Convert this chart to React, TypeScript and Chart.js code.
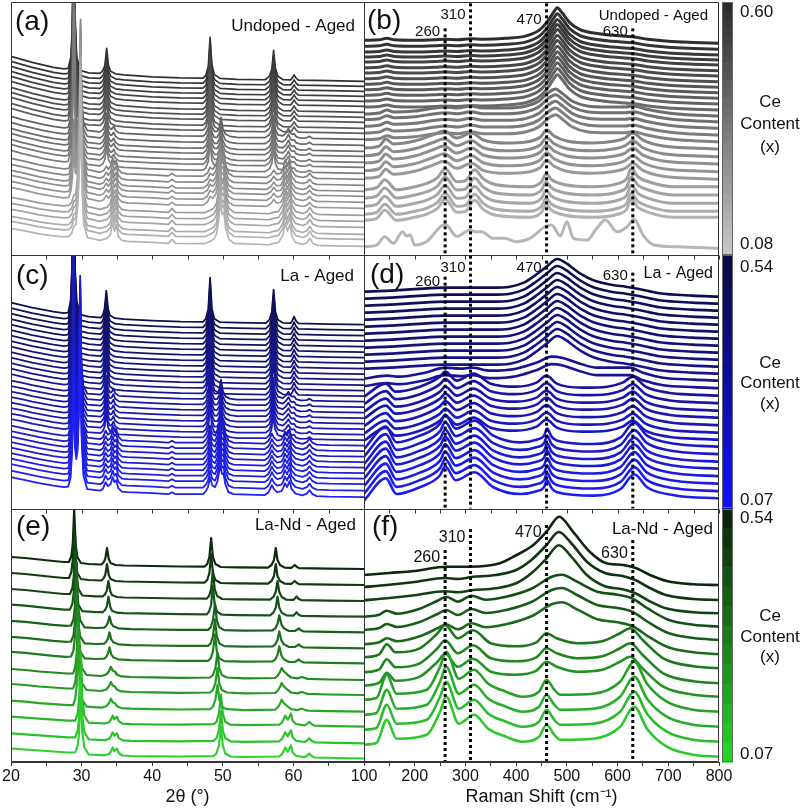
import React, { useEffect, useRef } from 'react';
import { Chart, registerables } from 'chart.js';

Chart.register(...registerables);

type Pt = [number, number];

const FONT = '"Liberation Sans", Arial, Helvetica, sans-serif';
const ROW_H = 760 / 3;

// ---------------- axes / labels ----------------
const xrdTicks = [20, 25, 30, 35, 40, 45, 50, 55, 60, 65, 70];
const xrdLabels = [20, 30, 40, 50, 60];
const ramanTicks = [100, 150, 200, 250, 300, 350, 400, 450, 500, 550, 600, 650, 700, 750, 800];
const ramanLabels = [100, 200, 300, 400, 500, 600, 700, 800];

const ramanLines = [260, 310, 460, 630];
const ramanLineLabels = ['260', '310', '470', '630'];
const ramanLineTopsB = [227, 252, 252, 227];
const ramanLineTopsD = [232, 253, 248, 236];
const ramanLineTopsF = [212, 233, 237, 222];

const ceHigh = ['0.60', '0.54', '0.54'];
const ceLow = ['0.08', '0.07', '0.07'];
const panelTags = ['(a)', '(b)', '(c)', '(d)', '(e)', '(f)'];
const sampleNames = ['Undoped - Aged', 'La - Aged', 'La-Nd - Aged'];

// ---------------- (a) XRD undoped ----------------
const aCubic: Pt[] = [[20,25],[21.5,22],[23,19],[24.5,16.5],[26,14],[27.5,12.5],
  [28.1,13],[28.5,25],[28.7,60],[28.9,175],[29.1,60],[29.3,25],[29.8,11],
  [31,8.5],[32.6,8],[33.0,10.5],[33.3,16],[33.55,33],[33.8,16],[34.1,10],[34.8,7.5],
  [36,6.5],[40,4.5],[44,3.5],[47.2,3.2],[47.6,6],[47.95,15],[48.2,44],[48.45,17],[48.8,7],[49.6,3],
  [52,2],[56,1.6],[56.6,5],[56.95,12],[57.2,31],[57.45,13],[57.8,5],[58.5,1.8],
  [59.6,1.5],[59.85,3.5],[60.1,6.5],[60.35,3.5],[60.7,1.3],[65,0.8],[70,0]];
const aMixed: Pt[] = [[20,23],[21.5,20],[23,17.5],[24.5,15],[26,13],[27.5,11.5],
  [28.1,12],[28.5,22],[28.7,55],[28.9,160],[29.1,55],[29.3,30],[29.5,28],[29.7,38],[29.9,70],[30.1,32],[30.3,16],[30.8,9],
  [32.6,7.5],[33.0,9.5],[33.3,14],[33.55,26],[33.8,14],[34.1,10],[34.3,10.5],[34.55,13],[34.8,9],[35.3,6.5],
  [36,6],[40,4.5],[44,3.5],[47.2,3.2],[47.6,5.5],[47.95,12],[48.2,33],[48.45,13],[48.8,8],[49.2,8],[49.5,12],[49.75,22],[50.0,11],[50.4,5],[51,3],[52,2],
  [56,1.7],[56.6,4.5],[56.95,10],[57.2,24],[57.45,10],[57.8,4.5],[58.5,3.5],[58.9,6],[59.3,11],[59.6,6],[59.85,5],[60.1,5.5],[60.4,2.5],[61,1.3],[61.9,1.5],[62.3,3],[62.7,1],[66,0.5],[70,0]];
const aTetra1: Pt[] = [[20,21],[22,18],[24,14.5],[26,12],[27.5,10.5],
  [28.2,11],[28.5,18],[28.7,32],[28.9,60],[29.1,36],[29.3,34],[29.5,50],[29.7,80],[29.85,160],[30.05,60],[30.3,24],[30.8,10],
  [32.6,7],[33.1,8.5],[33.5,13],[33.8,10],[34.1,13],[34.4,22],[34.65,15],[34.9,19],[35.2,10],[35.7,6.5],
  [36.5,5.5],[40,4.5],[42.3,3.5],[42.8,6],[43.3,3.5],[47.2,3.2],[47.8,6],[48.2,12],[48.6,10],[49.0,14],[49.3,22],[49.6,38],[49.85,28],[50.1,30],[50.35,16],[50.8,6],[51.5,3],
  [56.2,2],[56.8,4.5],[57.2,9],[57.6,5.5],[58.2,6],[58.5,10],[58.85,20],[59.15,13],[59.45,20],[59.75,9],[60.3,3.5],[61.3,1.8],[61.9,3],[62.3,6],[62.7,2.5],[63.3,1],[66,0.6],[70,0]];
const aTetra2: Pt[] = [[20,18],[22,15.5],[24,12.5],[26,10.5],[27.5,9.5],
  [28.2,10],[28.6,13],[28.9,20],[29.2,22],[29.5,45],[29.7,85],[29.85,165],[30.05,60],[30.3,22],[30.8,9],
  [32.6,6],[33.3,7.5],[33.6,8],[34.1,12],[34.4,25],[34.65,15],[34.9,22],[35.2,10],[35.7,6],
  [36.5,5],[40,4],[42.3,3],[42.8,7],[43.3,3],[47.5,2.8],[48.2,5],[48.7,7],[49.1,12],[49.4,25],[49.65,45],[49.9,32],[50.15,34],[50.4,18],[50.85,7],[51.6,3],
  [56.5,1.6],[57.2,3],[57.9,4],[58.5,11],[58.85,24],[59.15,15],[59.5,22],[59.8,10],[60.3,4],[61.3,1.8],[61.9,3.5],[62.35,8],[62.75,3],[63.4,1],[66,0.5],[70,0]];
const aOffsets = [174, 169, 164, 159, 154, 149, 143, 138, 133, 127, 122, 116, 110, 104, 99, 93, 88, 82, 76, 70, 64, 59, 53, 47, 40, 34, 28, 21, 16, 9];
const aTplIdx = [0,0,0,0,0,0,0,0,0,0,0,1,1,1,1,1,1,1,2,2,2,2,2,2,3,3,3,3,3,3];

// ---------------- (b) Raman undoped ----------------
const bCubic: Pt[] = [[100,3],[130,3.5],[145,5],[160,3.5],[200,3],[240,3.5],[260,4],[285,3.5],[310,4.5],[335,4],[380,5],[420,7.5],[445,13],[462,22],[475,32],[481,35.5],[490,31],[505,21],[525,14],[550,10.5],[590,8],[630,6.5],[660,4],[700,2],[750,0.8],[800,0]];
const bMixed: Pt[] = [[100,2],[130,3],[145,6],[160,4],[200,5],[240,8],[260,9],[285,8],[310,10],[335,8],[380,8],[420,10],[445,15],[465,24],[478,27],[490,23],[510,15],[540,10],[580,9],[615,9],[632,10],[655,7],[700,3],[750,1],[800,0]];
const bTetra1: Pt[] = [[100,1],[130,3],[143,10],[158,5],[200,8],[235,14],[258,18],[283,11],[312,16],[335,9],[380,6],[420,7],[448,12],[460,19],[475,13],[500,8],[550,6],[595,8],[615,11],[630,16],[650,9],[690,3],[750,1],[800,0]];
const bTetra2: Pt[] = [[100,-3],[125,-1],[141,7],[164,-3],[200,0],[224,3.3],[245,9],[260,18],[283,5],[300,6],[318,17],[335,8],[360,2],[426,0],[450,5],[459,13],[470,7],[497,2],[550,0],[602,3.3],[618,8],[627,18],[640,10],[661,5],[711,0],[800,0]];
const bMono: Pt[] = [[100,1.6],[125,3.3],[141,11.6],[158,5],[176,16.6],[184,12.3],[191,13.3],[200,3.3],[223,6.6],[260,24],[283,12],[309,18.3],[319,16.6],[332,16.6],[355,10],[378,10],[401,6.6],[427,10],[457,21.6],[470,23.3],[487,12.3],[500,26.6],[513,10],[540,8.3],[559,20],[576,28.3],[599,16.6],[619,21.6],[632,29],[652,12],[672,3.3],[718,1.6],[800,0]];
const bOffsets = [212, 206, 200.3, 195.3, 190.3, 184.6, 179.3, 173.6, 168, 162.6, 157, 151.3, 145.3, 139.3, 133.6, 127, 120.3, 113.6, 106.3, 98.6, 91.3, 83.6, 76, 68.6, 60.3, 52, 44, 38, 7];
const bTplIdx = [0,0,0,0,0,0,0,0,0,0,0,0,0,1,1,1,1,1,2,2,2,2,2,3,3,3,3,3,4];

// ---------------- (c) XRD La ----------------
const cCubic: Pt[] = [[20,22],[21.5,19.5],[23,17],[24.5,15],[26,13],[27.5,11.5],
  [28.1,12],[28.45,24],[28.65,60],[28.85,200],[29.05,60],[29.3,24],[29.8,10],
  [31,8],[32.7,7],[33.0,9.5],[33.25,16],[33.5,34],[33.75,16],[34.0,9.5],[34.7,6.5],
  [36,5.5],[40,4],[44,3],[47.2,2.8],[47.6,6],[47.95,16],[48.2,47],[48.45,16],[48.8,6],[49.6,2.5],
  [52,2],[56.1,1.6],[56.6,5],[56.95,13],[57.2,35],[57.45,13],[57.8,5],[58.5,1.8],
  [59.6,1.5],[59.85,4],[60.1,8],[60.35,4],[60.7,1.3],[65,0.5],[70,0]];
const cMixed: Pt[] = [[20,21],[21.5,19],[23,16.5],[24.5,14.5],[26,12.5],[27.5,11],
  [28.1,11.5],[28.45,22],[28.65,55],[28.85,170],[29.05,55],[29.25,30],[29.45,28],[29.6,40],[29.8,80],[30.0,35],[30.25,16],[30.8,8],
  [32.7,7],[33.0,9],[33.25,13],[33.5,26],[33.75,13],[34.0,9],[34.25,9.5],[34.5,13],[34.75,8.5],[35.3,5.8],
  [36,5.5],[40,4],[44,3],[47.2,2.8],[47.6,5.5],[47.95,13],[48.2,35],[48.45,14],[48.8,8],[49.2,8],[49.5,12],[49.75,22],[50.0,11],[50.4,5],[51,3],[52,2],
  [56.1,2],[56.6,5],[56.9,11],[57.15,24],[57.4,11],[57.8,5],[58.5,3.5],[58.9,6],[59.3,10],[59.6,6],[59.85,5],[60.1,5.5],[60.4,2.5],[61,1.3],[61.9,1.5],[62.3,3],[62.7,1],[65,0.5],[70,0]];
const cTetra: Pt[] = [[20,20],[22,17],[24,14],[26,11.5],[27.5,10],
  [28.1,10.5],[28.45,20],[28.65,45],[28.85,110],[29.05,50],[29.25,38],[29.45,48],[29.6,80],[29.8,170],[30.0,60],[30.25,22],[30.8,8],
  [32.6,6.5],[33.0,8],[33.4,15],[33.7,11],[34.1,13],[34.4,20],[34.65,15],[34.9,17],[35.2,9],[35.7,5.5],
  [36.5,5],[40,4],[42.3,3],[42.8,5],[43.3,3],[47.2,3],[47.6,6],[47.9,10],[48.2,20],[48.5,12],[48.9,10],[49.25,16],[49.65,32],[49.9,23],[50.1,24],[50.35,13],[50.8,5],[51.5,3],
  [55.9,2],[56.4,4.5],[56.7,8],[56.95,12],[57.25,8],[57.7,5],[58.3,6],[58.55,9],[58.8,14],[59.1,10],[59.45,16],[59.75,8],[60.3,3.5],[61.3,1.8],[61.9,3.5],[62.3,7],[62.7,3],[63.3,1],[65,0.5],[70,0]];
const cOffsets = [184, 178.5, 173, 167.5, 162, 156.5, 151, 145.5, 140, 134.5, 129, 123.5, 118, 112.5, 107, 101.5, 96, 90.5, 85, 79.5, 74, 68.5, 63, 57.5, 52, 46.5, 41, 35.5, 30, 24.5, 18, 11.5];
const cTplIdx = [0,0,0,0,0,0,0,0,0,0,0,0,0,0,1,1,1,1,1,1,1,1,2,2,2,2,2,2,2,2,2,2];

// ---------------- (d) Raman La ----------------
const dCubic: Pt[] = [[100,5],[150,6],[200,7.5],[260,9],[310,9],[350,9],[388,10],[415,14],[434,20],[460,30],[481,37.7],[500,33],[512,28.4],[530,22],[551,16.7],[590,11.7],[616,10],[642,7.7],[682,3.4],[747,1],[800,0]];
const dMixed: Pt[] = [[100,2],[145,5],[170,4],[220,8],[260,13],[290,12],[312,13],[350,10],[400,12],[440,18],[470,24],[490,23],[520,18],[560,13],[600,13],[625,13],[650,8],[690,3],[750,1],[800,0]];
const dTetra1: Pt[] = [[100,-1],[143,12],[162,4],[210,9],[250,19],[260,24],[283,15],[316,22],[350,12],[400,9],[440,13],[460,20],[480,12],[530,8],[580,9],[610,13],[630,19],[655,9],[700,3],[750,1],[800,0]];
const dTetra2: Pt[] = [[100,-2.4],[143,20],[164,4.3],[210,11],[250,23],[260,32],[281,18],[318,26],[355,11],[408,4.3],[440,7],[455,11],[461,18],[470,10],[481,6],[553,2.6],[606,9.3],[633,24],[658,11],[717,2.6],[800,0]];
const dOffsets = [212, 205, 198, 191, 184, 177, 170, 163, 156, 149, 142, 135, 128, 120.5, 113, 105.5, 98, 91, 83.5, 76, 69, 62, 54.5, 47, 40, 32.5, 25, 17.5, 10.4];
const dTplIdx = [0,0,0,0,0,0,0,0,0,0,0,0,1,1,2,2,2,2,2,2,2,3,3,3,3,3,3,3,3];

// ---------------- (e) XRD La-Nd ----------------
const eStep1: Pt[] = [[20,12],[22,11],[24,9.5],[26,8],[27.5,7],
  [28.2,7],[28.55,13],[28.75,25],[28.95,60],[29.15,25],[29.4,12],[29.9,6],
  [31,5],[32.8,4.5],[33.1,6.5],[33.35,10],[33.6,21],[33.85,10],[34.1,6],[34.8,4],
  [36,3.5],[40,3],[44,2.5],[47.4,2.3],[47.8,5],[48.1,12],[48.35,31],[48.6,12],[48.95,5],[49.7,2],
  [52,1.6],[56.4,1.4],[56.9,4],[57.25,9],[57.5,21],[57.75,9],[58.1,4],[58.8,1.3],
  [59.7,1.1],[59.95,2.5],[60.2,4],[60.45,2.3],[60.8,0.9],[65,0.4],[70,0]];
const eStep2: Pt[] = [[20,12],[22,11],[24,9.5],[26,8],[27.5,7],
  [28.35,7],[28.7,13],[28.9,25],[29.1,65],[29.3,25],[29.55,12],[30.1,5.5],
  [32,4.6],[33,4.6],[33.3,6.5],[33.55,10],[33.8,20],[34.05,10],[34.3,6],[35,4],
  [36,3.5],[40,3],[44,2.5],[47.7,2.3],[48.05,5],[48.35,12],[48.6,31],[48.85,12],[49.2,5],[49.9,2],
  [52,1.6],[56.7,1.4],[57.15,4],[57.5,9],[57.75,20],[58.0,9],[58.35,4],[59,1.3],
  [60,1.1],[60.2,2.5],[60.45,4.5],[60.7,2.3],[61.1,0.9],[65,0.4],[70,0]];
const eStep3: Pt[] = [[20,11.5],[22,10.5],[24,9],[26,7.5],[27.8,6.5],
  [28.5,6.8],[28.85,13],[29.05,26],[29.3,70],[29.5,26],[29.8,12],[30.4,5],
  [32,4.3],[33.2,4.6],[33.5,6.5],[33.75,10],[33.95,16],[34.2,9],[34.5,6],[35.2,4],
  [37,3.2],[40,2.8],[44,2.4],[47.9,2.4],[48.3,5],[48.6,12],[48.9,29],[49.15,12],[49.5,5],[50.2,2.2],
  [53,1.6],[57,1.8],[57.45,4],[57.75,8.5],[58.0,17],[58.3,8],[58.65,4],[59.3,1.5],
  [60.2,1.3],[60.5,2.5],[60.75,4],[61.0,2.2],[61.4,1],[65,0.5],[70,0]];
const eStep4: Pt[] = [[20,11],[22,10],[24,8.5],[26,7.5],[28,6.5],
  [28.8,6.5],[29.1,13],[29.3,26],[29.55,72],[29.75,26],[30.05,12],[30.7,5],
  [32.8,4],[33.5,5.5],[33.85,8.5],[34.15,13],[34.4,9.5],[34.7,8.5],[35.0,5.5],[35.6,3.6],
  [37,3],[40,2.6],[44,2.2],[48.2,2.5],[48.6,5],[48.95,12],[49.25,27],[49.5,12],[49.85,5],[50.6,2.5],
  [53,1.6],[57.4,2],[57.8,4.5],[58.1,8],[58.35,12],[58.6,9],[58.9,7],[59.2,5],[59.7,2.5],
  [60.6,1.6],[60.9,2.4],[61.2,3],[61.5,2.2],[62,1.1],[65,0.5],[70,0]];
const eStep5: Pt[] = [[20,10],[22,9],[24,8],[26,7],[28,6],
  [29.1,6],[29.45,13],[29.65,26],[29.9,75],[30.1,26],[30.4,11],[31,4],
  [33.3,3.2],[33.9,4.5],[34.15,7],[34.4,11],[34.65,7.5],[35.0,10],[35.25,5.5],[35.8,3],
  [37,2.5],[40,2.2],[44,2],[48.7,2.5],[49.1,5],[49.45,13],[49.75,32],[50.0,13],[50.35,5],[51.1,2],
  [53,1.5],[58.0,2],[58.4,4.5],[58.85,11],[59.2,7],[59.65,13],[59.9,6],[60.4,2.5],
  [61.6,1.3],[61.95,3],[62.25,5],[62.55,2.6],[63,1],[66,0.5],[70,0]];
const eOffsets = [193, 177, 161, 145.3, 129.7, 113.7, 98.7, 82, 67, 50.3, 35.3, 18.7, 3.5];
const eTplIdx = [0,0,1,1,2,2,2,3,3,3,4,4,4];

// ---------------- (f) Raman La-Nd ----------------
const fStep1: Pt[] = [[100,10],[150,12],[200,14],[263,18.3],[309,18.3],[368,21.7],[401,30],[434,40],[460,53.3],[485,68.3],[512,53.3],[545,33.3],[578,21.7],[611,20],[637,16.7],[664,10],[697,4],[749,0.7],[800,0]];
const fStep2: Pt[] = [[100,13],[145,15],[200,18],[260,22],[285,21],[312,23],[360,25],[400,30],[430,40],[460,55],[484,68],[510,56],[540,38],[575,27],[610,24],[635,20],[660,13],[695,5],[750,1],[800,0]];
const fStep3: Pt[] = [[100,10],[130,12],[145,16],[165,13],[210,18],[245,26],[262,30],[285,25],[312,31],[340,27],[380,30],[430,38],[470,50],[490,52],[520,45],[560,35],[600,32],[630,28],[660,18],[700,7],[750,2],[800,0]];
const fStep4: Pt[] = [[100,11],[130,14],[145,24],[162,16],[210,20],[245,35],[260,43],[285,30],[315,38],[350,25],[400,22],[440,26],[460,35],[480,30],[520,25],[570,27],[605,35],[625,40],[650,28],[690,10],[750,2],[800,0]];
const fStep5: Pt[] = [[100,12],[125,14],[145,37],[164,18],[224,22],[250,45],[262,60],[287,33],[317,42],[345,28],[380,20],[412,15],[445,20],[460,32],[475,22],[487,17],[552,18],[605,30],[633,50],[658,28],[697,10],[749,2],[800,0]];
const fOffsets = [177, 162, 148.7, 135.3, 122, 107.7, 93.7, 78.7, 65.3, 50.3, 35.3, 20.3, 5.3];
const fTplIdx = [0,1,1,2,2,2,3,3,3,4,4,4,4];

// ---------------- styling ----------------
interface PanelSpec {
  xId: string; yId: string; templates: Pt[][]; tplIdx: number[]; offsets: number[];
  c0: string; c1: string; width: number; smooth: boolean;
}
const PANELS: PanelSpec[] = [
  { xId: 'xL', yId: 'yA', templates: [aCubic, aMixed, aTetra1, aTetra2], tplIdx: aTplIdx, offsets: aOffsets, c0: '#303030', c1: '#b4b4b4', width: 1.7, smooth: false },
  { xId: 'xR', yId: 'yA', templates: [bCubic, bMixed, bTetra1, bTetra2, bMono], tplIdx: bTplIdx, offsets: bOffsets, c0: '#2e2e2e', c1: '#b6b6b6', width: 3, smooth: true },
  { xId: 'xL', yId: 'yC', templates: [cCubic, cMixed, cTetra], tplIdx: cTplIdx, offsets: cOffsets, c0: '#10104e', c1: '#2020f4', width: 1.8, smooth: false },
  { xId: 'xR', yId: 'yC', templates: [dCubic, dMixed, dTetra1, dTetra2], tplIdx: dTplIdx, offsets: dOffsets, c0: '#0e0e4e', c1: '#1c1cf0', width: 2.6, smooth: true },
  { xId: 'xL', yId: 'yE', templates: [eStep1, eStep2, eStep3, eStep4, eStep5], tplIdx: eTplIdx, offsets: eOffsets, c0: '#0f2a0f', c1: '#2ed02e', width: 2.2, smooth: false },
  { xId: 'xR', yId: 'yE', templates: [fStep1, fStep2, fStep3, fStep4, fStep5], tplIdx: fTplIdx, offsets: fOffsets, c0: '#0e260e', c1: '#2cc82c', width: 2.6, smooth: true },
];

const COLORBARS = [
  { top: '#2b2b2b', bottom: '#c6c6c6', steps: 29 },
  { top: '#0a0a46', bottom: '#0f0fff', steps: 29 },
  { top: '#0b250b', bottom: '#24d424', steps: 13 },
];

function hexRgb(h: string): number[] {
  const n = parseInt(h.slice(1), 16);
  return [(n >> 16) & 255, (n >> 8) & 255, n & 255];
}
function mix(a: string, b: string, t: number): string {
  const A = hexRgb(a), B = hexRgb(b);
  return `rgb(${A.map((v, i) => Math.round(v + (B[i] - v) * t)).join(',')})`;
}

function buildDatasets(): any[] {
  const ds: any[] = [];
  PANELS.forEach((p) => {
    const n = p.offsets.length;
    p.offsets.forEach((off, i) => {
      const tpl = p.templates[p.tplIdx[i]];
      ds.push({
        type: 'line',
        data: tpl.map(([x, y]) => ({ x, y: y + off })),
        xAxisID: p.xId,
        yAxisID: p.yId,
        borderColor: mix(p.c0, p.c1, n > 1 ? i / (n - 1) : 0),
        borderWidth: p.width,
        pointRadius: 0,
        fill: false,
        tension: 0,
        cubicInterpolationMode: p.smooth ? 'monotone' : 'default',
        borderJoinStyle: 'round',
        borderCapStyle: 'round',
        order: 10 + (n - 1 - i),
      });
    });
  });
  const tops: [string, number[]][] = [['yA', ramanLineTopsB], ['yC', ramanLineTopsD], ['yE', ramanLineTopsF]];
  tops.forEach(([yId, arr]) => {
    ramanLines.forEach((v, k) => {
      ds.push({
        type: 'line',
        data: [{ x: v, y: arr[k] }, { x: v, y: 0 }],
        xAxisID: 'xR',
        yAxisID: yId,
        borderColor: '#000',
        borderWidth: 3,
        borderDash: [3, 3],
        borderCapStyle: 'butt',
        pointRadius: 0,
        fill: false,
        order: 0,
      });
    });
  });
  return ds;
}

function xAxis(min: number, max: number, ticks: number[], labels: number[], title: string, weight: number, stackWeight: number) {
  return {
    type: 'linear', axis: 'x', position: 'bottom', stack: 'cols', stackWeight, weight, min, max,
    afterBuildTicks: (s: any) => { s.ticks = ticks.map((v) => ({ value: v })); },
    afterFit: (s: any) => { s.paddingLeft = 0; s.paddingRight = 0; },
    ticks: {
      autoSkip: false, maxRotation: 0, minRotation: 0, padding: 3, color: '#111',
      font: { family: FONT, size: 16, lineHeight: 1 },
      callback: (v: number) => (labels.includes(v) ? String(v) : ''),
    },
    grid: { display: true, drawOnChartArea: false, drawTicks: true, tickLength: 4, color: '#333', tickColor: '#333', tickWidth: 1 },
    border: { display: true, color: '#333', width: 1 },
    title: { display: true, text: title, color: '#111', font: { family: FONT, size: 18, lineHeight: 1 }, padding: { top: 0, bottom: 0 } },
  };
}
function yAxis(weight: number) {
  return { type: 'linear', axis: 'y', position: 'left', stack: 'rows', stackWeight: 1, weight, min: 0, max: ROW_H, display: false };
}

const panelClip = {
  id: 'panelClip',
  beforeDatasetDraw(chart: any, args: any) {
    const meta = args.meta;
    const xs = chart.scales[meta.xAxisID];
    const ys = chart.scales[meta.yAxisID];
    const ctx = chart.ctx;
    ctx.save();
    ctx.beginPath();
    ctx.rect(xs.left, ys.top, xs.right - xs.left, ys.bottom - ys.top);
    ctx.clip();
  },
  afterDatasetDraw(chart: any) {
    chart.ctx.restore();
  },
};

const decor = {
  id: 'decor',
  afterDraw(chart: any) {
    const ctx = chart.ctx as CanvasRenderingContext2D;
    const xL = chart.scales.xL, xR = chart.scales.xR;
    const rows = ['yA', 'yC', 'yE'].map((id) => chart.scales[id]);
    ctx.save();
    ctx.strokeStyle = '#333';
    ctx.lineWidth = 1;
    const xs = [Math.round(xL.left) + 0.5, Math.round(xR.left) + 0.5, Math.round(xR.right) - 0.5];
    const top = Math.round(rows[0].top) + 0.5;
    const bot = Math.round(rows[2].bottom) - 0.5;
    ctx.beginPath();
    xs.forEach((x) => { ctx.moveTo(x, top); ctx.lineTo(x, bot); });
    rows.forEach((r) => { const y = Math.round(r.top) + 0.5; ctx.moveTo(xs[0], y); ctx.lineTo(xs[2], y); });
    ctx.moveTo(xs[0], bot); ctx.lineTo(xs[2], bot);
    ctx.stroke();
    ctx.beginPath();
    [rows[0], rows[1]].forEach((r) => {
      const y = Math.round(r.bottom) + 0.5;
      xrdTicks.forEach((v) => { const x = Math.round(xL.getPixelForValue(v)) + 0.5; ctx.moveTo(x, y); ctx.lineTo(x, y + 4); });
      ramanTicks.forEach((v) => { const x = Math.round(xR.getPixelForValue(v)) + 0.5; ctx.moveTo(x, y); ctx.lineTo(x, y + 4); });
    });
    ctx.stroke();

    const cbX = Math.round(xR.right) + 3;
    const cbW = 11;
    COLORBARS.forEach((cb, k) => {
      const r = rows[k];
      const h = r.bottom - r.top;
      for (let s = 0; s < cb.steps; s++) {
        ctx.fillStyle = mix(cb.top, cb.bottom, s / (cb.steps - 1));
        ctx.fillRect(cbX, r.top + (s * h) / cb.steps, cbW, h / cb.steps + 0.6);
      }
      ctx.strokeStyle = '#666';
      ctx.strokeRect(cbX + 0.5, Math.round(r.top) + 0.5, cbW - 1, Math.round(h) - 1);
    });

    ctx.fillStyle = '#111';
    ctx.textBaseline = 'alphabetic';
    const hiY = [17, 272, 523];
    const loY = [249, 505, 759];
    const ceY = [[107, 129, 152], [368, 388, 409], [621, 642, 662]];
    ctx.font = `17px ${FONT}`;
    ctx.textAlign = 'left';
    rows.forEach((_r, k) => {
      ctx.fillText(ceHigh[k], cbX + 18, hiY[k]);
      ctx.fillText(ceLow[k], cbX + 18, loY[k]);
    });
    ctx.textAlign = 'center';
    rows.forEach((_r, k) => {
      ctx.fillText('Ce', 770, ceY[k][0]);
      ctx.fillText('Content', 770, ceY[k][1]);
      ctx.fillText('(x)', 770, ceY[k][2]);
    });

    ctx.textAlign = 'left';
    ctx.font = `28px ${FONT}`;
    const tagPos = [[15, 30], [367, 29], [16, 284], [370, 283], [16, 535], [372, 535]];
    panelTags.forEach((t, i) => ctx.fillText(t, tagPos[i][0], tagPos[i][1]));

    ctx.textAlign = 'right';
    const namePos = [[355, 31, 17], [708, 20, 15], [354, 281, 17], [713, 278, 16], [356, 530, 17], [713, 534, 17]];
    namePos.forEach((p, i) => {
      ctx.font = `${p[2]}px ${FONT}`;
      ctx.fillText(sampleNames[Math.floor(i / 2)], p[0], p[1]);
    });

    const lblY = [[36, 19, 24, 36], [286, 272, 272, 280], [562, 542, 537, 558]];
    const lblSize = [15, 15, 16];
    lblY.forEach((arr, k) => {
      ctx.font = `${lblSize[k]}px ${FONT}`;
      ramanLines.forEach((v, j) => {
        ctx.fillText(ramanLineLabels[j], xR.getPixelForValue(v) - 5, arr[j]);
      });
    });
    ctx.restore();
  },
};

export default function App() {
  const ref = useRef<HTMLCanvasElement>(null);
  useEffect(() => {
    if (!ref.current) return;
    const chart = new Chart(ref.current, {
      type: 'line',
      data: { datasets: buildDatasets() },
      options: {
        responsive: false,
        animation: false,
        devicePixelRatio: 1,
        events: [],
        layout: { padding: { left: 11, top: 2, right: 84, bottom: 6 } },
        plugins: { legend: { display: false }, tooltip: { enabled: false }, title: { display: false } },
        scales: {
          xL: xAxis(20, 70, xrdTicks, xrdLabels, '2θ (°)', 1, 353),
          xR: xAxis(100, 800, ramanTicks, ramanLabels, 'Raman Shift (cm⁻¹)', 2, 355),
          yA: yAxis(3),
          yC: yAxis(2),
          yE: yAxis(1),
        },
      } as any,
      plugins: [panelClip, decor],
    } as any);
    return () => chart.destroy();
  }, []);
  return (
    <div style={{ position: 'absolute', left: 0, top: 0, width: 803, height: 812, background: '#fff' }}>
      <canvas ref={ref} width={803} height={812} style={{ display: 'block', width: 803, height: 812 }} />
    </div>
  );
}
